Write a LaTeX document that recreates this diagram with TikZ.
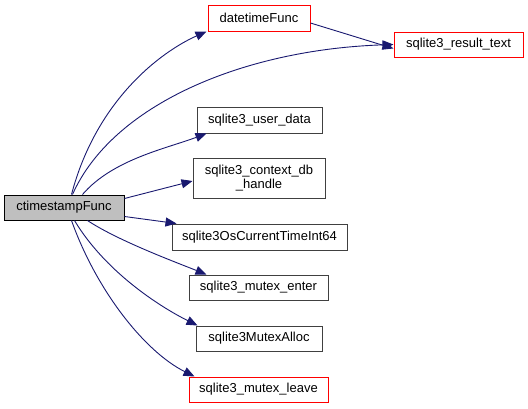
\documentclass[tikz,border=0pt]{standalone}
\usepackage{fontspec}
\setmainfont{Liberation Sans}
\usetikzlibrary{arrows.meta}
\definecolor{edgeblue}{HTML}{191970}
\definecolor{boxred}{HTML}{FF0000}
\definecolor{boxgray}{HTML}{BFBFBF}
\tikzset{
  fn/.style={draw=black!75, line width=1pt, fill=white, inner sep=0pt, align=center,
             font=\fontsize{13}{14.5}\selectfont},
  fnred/.style={fn, draw=boxred},
  fnmain/.style={fn, draw=black, fill=boxgray},
  edge/.style={draw=edgeblue, line width=0.9pt, -{Triangle[length=11pt,width=9pt]}}
}
\begin{document}
\begin{tikzpicture}[x=1pt,y=-1pt]
\useasboundingbox (0,0) rectangle (528,408);
\node[fnmain, minimum width=120pt, minimum height=25pt] (ct) at (64,207.5) {ctimestampFunc};
\node[fnred, minimum width=102pt, minimum height=26pt] (dt) at (259,18) {datetimeFunc};
\node[fnred, minimum width=129pt, minimum height=25pt] (rt) at (458.5,44.5) {sqlite3\_result\_text};
\node[fn, minimum width=125pt, minimum height=26pt] (ud) at (259.5,120) {sqlite3\_user\_data};
\node[fn, minimum width=132pt, minimum height=40pt] (cdh) at (259,178) {sqlite3\_context\_db\\\_handle};
\node[fn, minimum width=175pt, minimum height=26pt] (os) at (259.5,237) {sqlite3OsCurrentTimeInt64};
\node[fn, minimum width=139pt, minimum height=25pt] (me) at (258.5,287.5) {sqlite3\_mutex\_enter};
\node[fn, minimum width=126pt, minimum height=25pt] (ma) at (259,338.5) {sqlite3MutexAlloc};
\node[fnred, minimum width=139pt, minimum height=25pt] (ml) at (258.5,389.5) {sqlite3\_mutex\_leave};

\draw[edge] ([xshift=68pt]ct.north west) .. controls +(25,-95) and +(-45,20) .. ([xshift=-1pt]dt.south west);
\draw[edge] ([xshift=69pt]ct.north west) .. controls +(40,-90) and +(-150,5) .. ([yshift=0pt]rt.west);
\draw[edge] (dt.east) ++(0,5) coordinate (dtE) (dtE) -- ([yshift=-4pt]rt.west);
\draw[edge] ([xshift=79pt]ct.north west) .. controls +(30,-35) and +(-40,15) .. ([xshift=10pt]ud.south west);
\draw[edge] ([yshift=-4pt]ct.north east) -- ([yshift=-3pt]cdh.west);
\draw[edge] ([yshift=4pt]ct.south east) -- ([xshift=5pt]os.north west);
\draw[edge] ([xshift=84pt]ct.south west) .. controls +(30,20) and +(-30,-12) .. ([xshift=18pt]me.north west);
\draw[edge] ([xshift=71pt]ct.south west) .. controls +(30,50) and +(-40,-20) .. ([xshift=2pt]ma.north west);
\draw[edge] ([xshift=68pt]ct.south west) .. controls +(25,70) and +(-50,-25) .. ([xshift=6pt]ml.north west);
\end{tikzpicture}
\end{document}
